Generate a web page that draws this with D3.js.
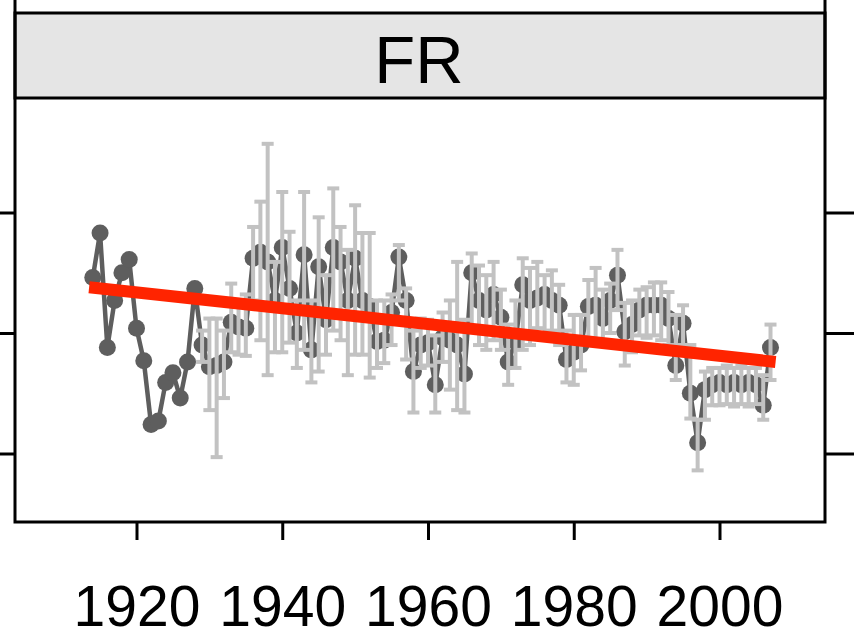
<!DOCTYPE html>
<html>
<head>
<meta charset="utf-8">
<script src="https://cdn.jsdelivr.net/npm/d3@7"></script>
<style>
  body { margin: 0; background: #fff; }
  svg { display: block; }
</style>
</head>
<body>
<div class="chart"></div>
<script>
const width = 854,
      height = 643;

// series without error bars (early years)
const earlyYears = [1914, 1915, 1916, 1917, 1918, 1919, 1920, 1921, 1922, 1923, 1924, 1925, 1926, 1927, 1928];
const earlyValues = [0.46, 0.83, -0.12, 0.27, 0.50, 0.61, 0.04, -0.23, -0.76, -0.73, -0.41, -0.33, -0.54, -0.24, 0.37];

// series with error bars
const years = d3.range(1929, 2008);
const values = [
  -0.10, -0.28, -0.27, -0.24, 0.09, 0.05, 0.04, 0.62, 0.67, 0.59,
   0.27, 0.71, 0.37, 0.00, 0.65, -0.14, 0.55, 0.11, 0.71, 0.59,
   0.27, 0.62, 0.27, 0.22, -0.07, -0.06, 0.17, 0.63, 0.27, -0.32,
  -0.10, -0.08, -0.43, -0.04, -0.06, -0.10, -0.34, 0.50, 0.27, 0.19,
   0.32, 0.13, -0.24, -0.07, 0.40, 0.27, 0.29, 0.32, 0.27, 0.23,
  -0.22, -0.16, -0.10, 0.22, 0.23, 0.12, 0.27, 0.48, 0.01, 0.07,
   0.19, 0.23, 0.23, 0.23, 0.12, -0.27, 0.08, -0.50, -0.91, -0.47,
  -0.43, -0.41, -0.43, -0.41, -0.43, -0.41, -0.43, -0.60, -0.12];
const upper = [
   0.02, 0.12, 0.12, 0.02, 0.41, 0.27, 0.32, 0.88, 1.09, 1.57,
   0.59, 1.17, 0.84, 0.27, 1.17, 0.27, 0.96, 0.48, 1.20, 0.88,
   0.69, 1.06, 0.83, 0.83, 0.27, 0.27, 0.32, 0.73, 0.37, 0.02,
   0.12, 0.11, -0.02, 0.17, 0.27, 0.59, 0.11, 0.66, 0.56, 0.48,
   0.59, 0.36, 0.07, 0.27, 0.62, 0.54, 0.59, 0.48, 0.52, 0.40,
   0.02, 0.15, 0.15, 0.44, 0.54, 0.36, 0.41, 0.69, 0.25, 0.27,
   0.36, 0.38, 0.42, 0.42, 0.34, 0.15, 0.23, -0.10, -0.72, -0.32,
  -0.29, -0.29, -0.27, -0.29, -0.27, -0.29, -0.29, -0.35, 0.07];
const lower = [
  -0.24, -0.64, -1.03, -0.54, -0.16, -0.18, -0.19, 0.27, -0.06, -0.35,
  -0.16, -0.16, -0.08, -0.29, -0.14, -0.41, -0.32, -0.18, 0.02, -0.06,
  -0.35, -0.18, -0.18, -0.37, -0.29, -0.25, -0.10, 0.27, -0.22, -0.66,
  -0.29, -0.27, -0.66, -0.24, -0.47, -0.64, -0.66, 0.02, -0.10, -0.14,
  -0.06, -0.14, -0.43, -0.29, -0.14, -0.10, 0.04, -0.02, 0.02, -0.10,
  -0.41, -0.43, -0.31, -0.10, -0.10, -0.06, 0.00, 0.19, -0.27, -0.16,
  -0.02, -0.04, -0.02, -0.06, -0.10, -0.39, -0.10, -0.71, -1.14, -0.72,
  -0.60, -0.60, -0.59, -0.61, -0.59, -0.61, -0.59, -0.72, -0.39];

// fitted trend (end points)
const trendYears = [1913.5, 2007.7];
const trendValues = [0.38, -0.24];

const xTicks = [1920, 1940, 1960, 1980, 2000];
const yTicks = [-1, 0, 1];
const panelTitle = "FR";

const panelLeft = 15, panelRight = 825, stripTop = 13, panelTop = 98, panelBottom = 522;

const x = d3.scaleLinear().domain([1920, 2000]).range([136.5, 719.5]);
const y = d3.scaleLinear().domain([-1, 1]).range([453.5, 212.5]);

const svg = d3.select(".chart")
              .append("svg")
              .attr("width", width)
              .attr("height", height)
              .style("font-family", "'Liberation Sans', Arial, sans-serif");

var all = earlyYears.map((yr, i) => ({year: yr, v: earlyValues[i]}))
          .concat(years.map((yr, i) => ({year: yr, v: values[i], hi: upper[i], lo: lower[i]})));

// strip
svg.append("rect")
   .attr("x", panelLeft).attr("y", stripTop)
   .attr("width", panelRight - panelLeft).attr("height", panelTop - stripTop)
   .attr("fill", "#e5e5e5")
   .attr("stroke", "#000").attr("stroke-width", 3);

svg.append("text")
   .attr("x", (panelLeft + panelRight) / 2 - 1)
   .attr("y", 83)
   .attr("text-anchor", "middle")
   .attr("font-size", 67)
   .attr("fill", "#000")
   .text(panelTitle);

var g = svg.append("g").classed("graphic", true);

// connecting line + points
g.append("path")
 .datum(all)
 .attr("fill", "none")
 .attr("stroke", "#5e5e5e")
 .attr("stroke-width", 4.5)
 .attr("d", d3.line().x(d => x(d.year)).y(d => y(d.v)));

g.selectAll("circle")
 .data(all)
 .enter().append("circle")
 .attr("cx", d => x(d.year))
 .attr("cy", d => y(d.v))
 .attr("r", 8.5)
 .attr("fill", "#5e5e5e");

// error bars over the points
var eb = g.selectAll("g.err")
          .data(all.filter(d => d.hi != null))
          .enter().append("g").classed("err", true)
          .attr("stroke", "#c2c2c2")
          .attr("stroke-width", 4);
eb.append("line")
  .attr("x1", d => x(d.year)).attr("x2", d => x(d.year))
  .attr("y1", d => y(d.hi)).attr("y2", d => y(d.lo));
eb.append("line")
  .attr("x1", d => x(d.year) - 6).attr("x2", d => x(d.year) + 6)
  .attr("y1", d => y(d.hi)).attr("y2", d => y(d.hi));
eb.append("line")
  .attr("x1", d => x(d.year) - 6).attr("x2", d => x(d.year) + 6)
  .attr("y1", d => y(d.lo)).attr("y2", d => y(d.lo));

// trend
g.append("line")
 .attr("x1", x(trendYears[0])).attr("y1", y(trendValues[0]))
 .attr("x2", x(trendYears[1])).attr("y2", y(trendValues[1]))
 .attr("stroke", "#ff2400")
 .attr("stroke-width", 12);

// panel frame
svg.append("path")
   .attr("d", "M" + panelLeft + ",0V" + panelBottom + "H" + panelRight + "V0")
   .attr("fill", "none")
   .attr("stroke", "#000")
   .attr("stroke-width", 3);

// axes
var yl = svg.append("g")
            .attr("transform", "translate(" + panelLeft + ",0)")
            .call(d3.axisLeft(y).tickValues(yTicks).tickSize(15).tickFormat(""));
var yr = svg.append("g")
            .attr("transform", "translate(" + panelRight + ",0)")
            .call(d3.axisRight(y).tickValues(yTicks).tickSize(30).tickFormat(""));
var xa = svg.append("g")
            .attr("transform", "translate(0," + panelBottom + ")")
            .call(d3.axisBottom(x).tickValues(xTicks).tickSize(18).tickPadding(46).tickFormat(d3.format("d")));

[yl, yr, xa].forEach(function(a){
    a.select(".domain").remove();
    a.selectAll(".tick line").attr("stroke", "#000").attr("stroke-width", 3);
});
xa.selectAll(".tick text")
  .attr("font-size", 57)
  .attr("font-family", "'Liberation Sans', Arial, sans-serif")
  .attr("fill", "#000");
</script>
</body>
</html>
